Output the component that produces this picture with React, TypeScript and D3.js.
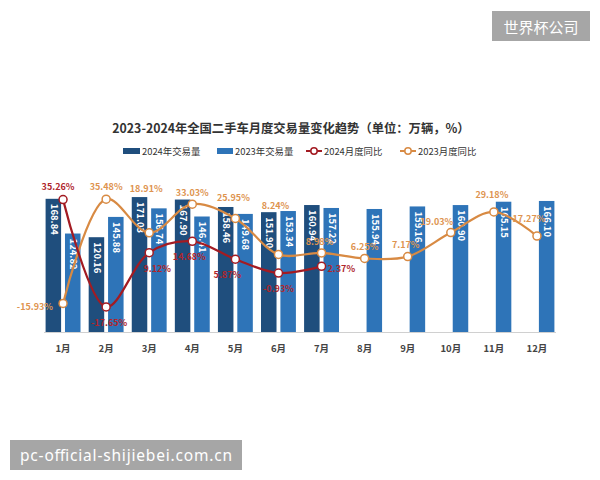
import React from "react";
import * as d3 from "d3";

const months = ["1月","2月","3月","4月","5月","6月","7月","8月","9月","10月","11月","12月"];
const vol2024 = [168.84, 120.16, 171.03, 167.90, 158.46, 151.90, 160.94];
const vol2023 = [124.82, 145.88, 156.74, 146.41, 149.68, 153.34, 157.22, 155.94, 159.16, 160.90, 165.15, 166.10];
const yoy2024 = [35.26, -17.65, 9.12, 14.68, 5.87, -0.93, 2.37];
const yoy2023 = [-15.93, 35.48, 18.91, 33.03, 25.95, 8.24, 8.98, 6.25, 7.17, 19.03, 29.18, 17.27];
const legendNames = ["2024年交易量", "2023年交易量", "2024月度同比", "2023月度同比"];
const title = "2023-2024年全国二手车月度交易量变化趋势（单位：万辆，%）";

// label nudges (layout only)
const nudge24: [number, number, string][] = [[-5,-13,"middle"],[3,16,"middle"],[8,16,"middle"],[-3,15,"middle"],[-8,15,"middle"],[0,15,"middle"],[6,2,"start"]];
const nudge23: [number, number, string][] = [[-10,3,"end"],[0,-13,"middle"],[-3,-44,"middle"],[0,-12,"middle"],[-2,-21,"middle"],[-3,-49,"middle"],[-2,-11,"middle"],[0,-12,"middle"],[-2,-12,"middle"],[-14,-11,"middle"],[-2,-17,"middle"],[-8,-18,"middle"]];

const C_DARK = "#1f4e7d";
const C_LIGHT = "#2e74b8";
const C_RED = "#a31b22";
const C_ORANGE = "#d88a43";
const C_RED_T = "#b0262c";
const C_ORANGE_T = "#de9450";
const FONT = "'Noto Sans CJK SC', 'Noto Sans', sans-serif";

export default function App() {
  const W = 600, H = 480;
  const top = 190, bottom = 332;
  const x0 = d3.scaleBand<string>().domain(months).range([41.5, 558.5]).paddingInner(0.19).paddingOuter(0.095);
  const x1 = d3.scaleBand<string>().domain(["2024", "2023"]).range([0, x0.bandwidth()]).paddingInner(0.2);
  const y = d3.scaleLinear().domain([0, 180]).range([bottom, top]);
  const y2 = d3.scaleLinear().domain([-30, 40]).range([bottom, top]);
  const cx = (i: number) => (x0(months[i]) as number) + x0.bandwidth() / 2;

  const line = d3.line<number>().x((_, i) => cx(i)).y((v) => y2(v)).curve(d3.curveCatmullRom.alpha(0.5));

  const barLabel = (v: number, bx: number) => (
    <text transform={`translate(${bx},${y(v) + 5}) rotate(90)`} fill="#fff" fontSize={9.5} fontWeight={700}
      dominantBaseline="middle" textAnchor="start">{v.toFixed(2)}</text>
  );

  return (
    <svg width={W} height={H} style={{ position: "absolute", left: 0, top: 0, background: "#fff" }} fontFamily={FONT}>
      <rect x={0} y={0} width={W} height={H} fill="#fff" />
      {/* watermark top */}
      <rect x={492} y={11} width={98} height={30} fill="#a6a6a6" />
      <text x={541} y={26} fill="#fff" fontSize={15} textAnchor="middle" dominantBaseline="central">世界杯公司</text>

      <text x={291} y={128} fontSize={12.3} fontWeight={700} fill="#333" textAnchor="middle" dominantBaseline="central">{title}</text>

      {/* legend */}
      <g fontSize={9.4} fill="#333">
        <rect x={123} y={148} width={17} height={6} fill={C_DARK} />
        <text x={142} y={151} dominantBaseline="central">{legendNames[0]}</text>
        <rect x={217} y={148} width={16} height={6} fill={C_LIGHT} />
        <text x={235} y={151} dominantBaseline="central">{legendNames[1]}</text>
        <line x1={306} x2={322} y1={151} y2={151} stroke={C_RED} strokeWidth={2} />
        <circle cx={314} cy={151} r={3.2} fill="#fff" stroke={C_RED} strokeWidth={1.5} />
        <text x={324} y={151} dominantBaseline="central">{legendNames[2]}</text>
        <line x1={400} x2={416} y1={151} y2={151} stroke={C_ORANGE} strokeWidth={2} />
        <circle cx={408} cy={151} r={3.2} fill="#fff" stroke={C_ORANGE} strokeWidth={1.5} />
        <text x={418} y={151} dominantBaseline="central">{legendNames[3]}</text>
      </g>

      {/* bars */}
      {vol2023.map((v, i) => {
        const bx = (x0(months[i]) as number) + (x1("2023") as number);
        return <rect key={"b23" + i} x={bx} y={y(v)} width={x1.bandwidth()} height={bottom - y(v)} fill={C_LIGHT} />;
      })}
      {vol2024.map((v, i) => {
        const bx = (x0(months[i]) as number) + (x1("2024") as number);
        return <rect key={"b24" + i} x={bx} y={y(v)} width={x1.bandwidth()} height={bottom - y(v)} fill={C_DARK} />;
      })}
      {vol2023.map((v, i) => {
        const bx = (x0(months[i]) as number) + (x1("2023") as number) + x1.bandwidth() / 2;
        return <g key={"l23" + i}>{barLabel(v, bx)}</g>;
      })}
      {vol2024.map((v, i) => {
        const bx = (x0(months[i]) as number) + (x1("2024") as number) + x1.bandwidth() / 2;
        return <g key={"l24" + i}>{barLabel(v, bx)}</g>;
      })}

      {/* axis */}
      <line x1={44} x2={556} y1={bottom + 0.5} y2={bottom + 0.5} stroke="#d0d0d0" strokeWidth={1} />
      {months.map((m, i) => (
        <text key={m} x={cx(i)} y={348} fontSize={9.5} fontWeight={700} fill="#444" textAnchor="middle" dominantBaseline="central">{m}</text>
      ))}

      {/* lines */}
      <path d={line(yoy2023) || ""} fill="none" stroke={C_ORANGE} strokeWidth={2.2} />
      <path d={line(yoy2024) || ""} fill="none" stroke={C_RED} strokeWidth={2.2} />
      {yoy2023.map((v, i) => (
        <circle key={"c23" + i} cx={cx(i)} cy={y2(v)} r={4} fill="#fff" stroke={C_ORANGE} strokeWidth={1.5} />
      ))}
      {yoy2024.map((v, i) => (
        <circle key={"c24" + i} cx={cx(i)} cy={y2(v)} r={4} fill="#fff" stroke={C_RED} strokeWidth={1.5} />
      ))}
      {yoy2023.map((v, i) => (
        <text key={"t23" + i} x={cx(i) + nudge23[i][0]} y={y2(v) + nudge23[i][1]} fontSize={9} fontWeight={700}
          fill={C_ORANGE_T} textAnchor={nudge23[i][2] as any} dominantBaseline="central">{v.toFixed(2)}%</text>
      ))}
      {yoy2024.map((v, i) => (
        <text key={"t24" + i} x={cx(i) + nudge24[i][0]} y={y2(v) + nudge24[i][1]} fontSize={9} fontWeight={700}
          fill={C_RED_T} textAnchor={nudge24[i][2] as any} dominantBaseline="central">{v.toFixed(2)}%</text>
      ))}

      {/* watermark bottom */}
      <rect x={10} y={440} width={232} height={30} fill="#a6a6a6" />
      <text x={20} y={455} fill="#fff" fontSize={15.5} textAnchor="start" dominantBaseline="central"
        textLength={212} lengthAdjust="spacing" fontFamily="'Noto Sans', 'DejaVu Sans', sans-serif">pc-official-shijiebei.com.cn</text>
    </svg>
  );
}
